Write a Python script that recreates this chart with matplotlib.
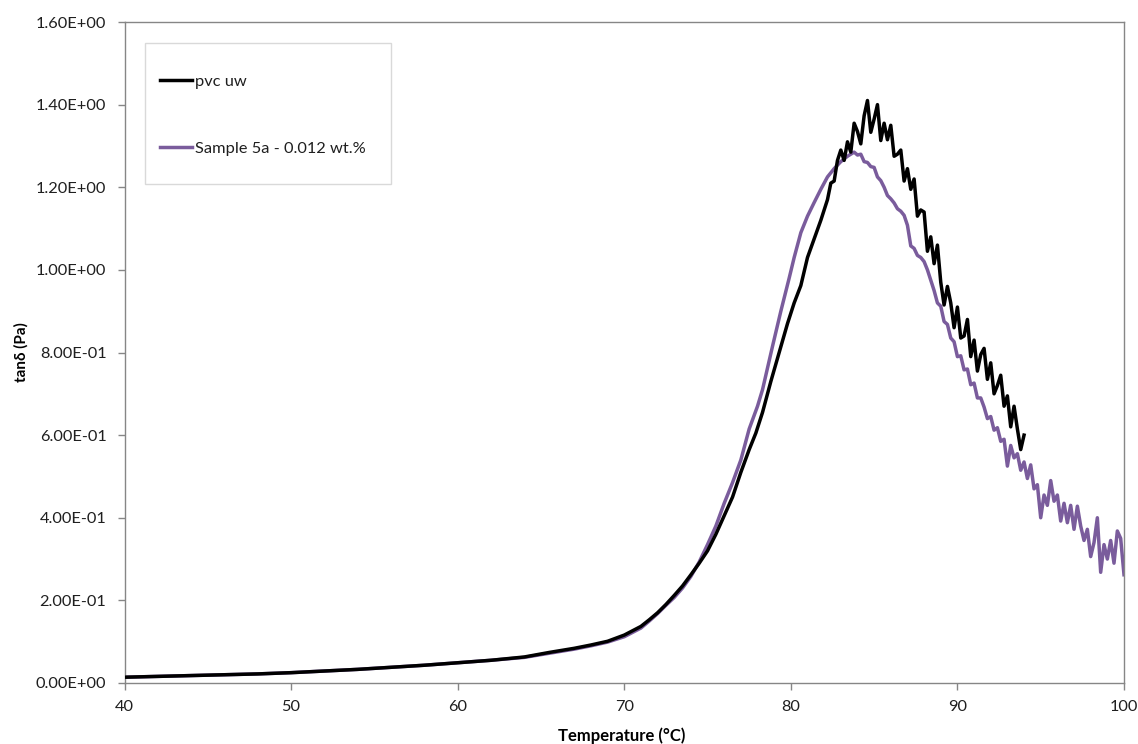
import matplotlib
matplotlib.use("Agg")
import matplotlib.pyplot as plt
from matplotlib.patches import Rectangle
from matplotlib.ticker import FixedLocator, FuncFormatter

plt.rcParams['font.family'] = ['Lato', 'DejaVu Sans']

# ---- data: tan delta vs temperature ----
pvc_temp = [40, 42, 44, 46, 48, 50, 52, 54, 56, 58, 60, 62, 64, 65.5, 67, 68, 69,
            70, 71, 71.5, 72, 72.5, 73, 73.5, 74, 74.5, 75, 75.5, 76, 76.5, 77,
            77.5, 77.9, 78.3, 78.8, 79.3, 79.8, 80.2, 80.6, 81.0, 81.4, 81.8, 82.2,
            82.4, 82.6, 82.8, 83.0, 83.2, 83.4, 83.6, 83.8, 84.0, 84.2, 84.4, 84.6,
            84.8, 85.0, 85.2, 85.4, 85.6, 85.8, 86.0, 86.2, 86.4, 86.6, 86.8, 87.0,
            87.2, 87.4, 87.6, 87.8, 88.0, 88.2, 88.4, 88.6, 88.8, 89.0, 89.2, 89.4,
            89.6, 89.8, 90.0, 90.2, 90.4, 90.6, 90.8, 91.0, 91.2, 91.4, 91.6, 91.8,
            92.0, 92.2, 92.4, 92.6, 92.8, 93.0, 93.2, 93.4, 93.6, 93.8, 94.0]
pvc_tan = [0.014, 0.016, 0.018, 0.020, 0.022, 0.025, 0.029, 0.033, 0.038, 0.043,
           0.049, 0.055, 0.063, 0.074, 0.084, 0.092, 0.101, 0.116, 0.137, 0.153,
           0.170, 0.190, 0.212, 0.235, 0.262, 0.290, 0.320, 0.360, 0.405, 0.450,
           0.510, 0.565, 0.605, 0.655, 0.730, 0.800, 0.870, 0.920, 0.962, 1.030,
           1.075, 1.120, 1.170,
           1.210, 1.215, 1.265, 1.290, 1.265, 1.310, 1.285, 1.355, 1.335, 1.305,
           1.373, 1.410, 1.333, 1.365, 1.400, 1.313, 1.355, 1.315, 1.350, 1.275,
           1.280, 1.290, 1.215, 1.245, 1.195, 1.220, 1.130, 1.145, 1.140, 1.045,
           1.080, 1.015, 1.060, 0.970, 0.915, 0.960, 0.920, 0.860, 0.910, 0.835,
           0.840, 0.880, 0.790, 0.830, 0.755, 0.795, 0.810, 0.735, 0.775, 0.700,
           0.720, 0.745, 0.670, 0.695, 0.620, 0.670, 0.615, 0.565, 0.600]

s5a_temp = [40, 42, 44, 46, 48, 50, 52, 54, 56, 58, 60, 62, 64, 65.5, 67, 68, 69,
            70, 71, 71.5, 72, 72.5, 73, 73.5, 74, 74.5, 75, 75.5, 76, 76.5, 77,
            77.5, 78, 78.3, 78.9, 79.4, 79.9, 80.2, 80.6, 81.0, 81.4, 81.8, 82.2,
            82.6, 83.0, 83.4, 83.8,
            84.0, 84.2, 84.4, 84.6, 84.8, 85.0, 85.2, 85.4, 85.6, 85.8, 86.0, 86.2,
            86.4, 86.6, 86.8, 87.0, 87.2, 87.4, 87.6, 87.8, 88.0, 88.2, 88.4, 88.6,
            88.8, 89.0, 89.2, 89.4, 89.6, 89.8, 90.0, 90.2, 90.4, 90.6, 90.8, 91.0,
            91.2, 91.4, 91.6, 91.8, 92.0, 92.2, 92.4, 92.6, 92.8, 93.0, 93.2, 93.4,
            93.6, 93.8, 94.0, 94.2, 94.4, 94.6, 94.8, 95.0, 95.2, 95.4, 95.6, 95.8,
            96.0, 96.2, 96.4, 96.6, 96.8, 97.0, 97.2, 97.4, 97.6, 97.8, 98.0, 98.2,
            98.4, 98.6, 98.8, 99.0, 99.2, 99.4, 99.6, 99.8, 100.0]
s5a_tan = [0.014, 0.016, 0.018, 0.020, 0.022, 0.025, 0.029, 0.033, 0.038, 0.043,
           0.049, 0.055, 0.062, 0.072, 0.082, 0.090, 0.099, 0.112, 0.133, 0.150,
           0.168, 0.188, 0.207, 0.230, 0.258, 0.293, 0.335, 0.380, 0.435, 0.485,
           0.540, 0.615, 0.670, 0.710, 0.815, 0.900, 0.980, 1.030, 1.090, 1.130,
           1.163, 1.195, 1.225, 1.245, 1.262, 1.275, 1.285,
           1.278, 1.280, 1.262, 1.260, 1.250, 1.248, 1.225, 1.216, 1.200, 1.180,
           1.172, 1.162, 1.148, 1.142, 1.132, 1.108, 1.058, 1.052, 1.035, 1.030,
           1.020, 1.000, 0.975, 0.950, 0.920, 0.912, 0.875, 0.868, 0.835, 0.826,
           0.790, 0.792, 0.758, 0.760, 0.722, 0.726, 0.690, 0.690, 0.668, 0.640,
           0.645, 0.612, 0.618, 0.585, 0.590, 0.525, 0.575, 0.545, 0.555, 0.515,
           0.535, 0.495, 0.528, 0.470, 0.480, 0.400, 0.455, 0.430, 0.490, 0.440,
           0.455, 0.392, 0.435, 0.388, 0.430, 0.372, 0.428, 0.380, 0.345, 0.372,
           0.306, 0.340, 0.400, 0.268, 0.335, 0.300, 0.345, 0.290, 0.368, 0.350,
           0.262]

series_labels = ["pvc uw", "Sample 5a - 0.012 wt.%"]
series_colors = ["#000000", "#7A5C9C"]

x_ticks = [40, 50, 60, 70, 80, 90, 100]
y_ticks = [0.0, 0.2, 0.4, 0.6, 0.8, 1.0, 1.2, 1.4, 1.6]

# ---- figure ----
W, H = 1138, 744
fig = plt.figure(figsize=(W / 100, H / 100), dpi=100)
ax = fig.add_axes([124.5 / W, 1 - 683 / H, (1124 - 124.5) / W, (683 - 22) / H])

ax.plot(pvc_temp, pvc_tan, color=series_colors[0], lw=2.5,
        solid_joinstyle='round', label=series_labels[0], zorder=3)
ax.plot(s5a_temp, s5a_tan, color=series_colors[1], lw=2.5,
        solid_joinstyle='round', label=series_labels[1], zorder=2)

ax.set_xlim(40, 100)
ax.set_ylim(0, 1.6)
ax.xaxis.set_major_locator(FixedLocator(x_ticks))
ax.yaxis.set_major_locator(FixedLocator(y_ticks))


def sci_fmt(v, pos):
    s = "{:.2E}".format(v)
    mant, exp = s.split("E")
    e = int(exp)
    return "{}E{}{:02d}".format(mant, "+" if e >= 0 else "-", abs(e))


ax.yaxis.set_major_formatter(FuncFormatter(sci_fmt))
ax.xaxis.set_major_formatter(FuncFormatter(lambda v, p: "{:d}".format(int(v))))

for sp in ax.spines.values():
    sp.set_color("#868686")
    sp.set_linewidth(1.0)
ax.tick_params(axis='both', direction='out', length=5, width=1.0,
               color="#868686", labelcolor="#1f1f1f", labelsize=11.8)
ax.tick_params(axis='y', pad=8)
ax.tick_params(axis='x', pad=7)

ax.set_xlabel("Temperature (°C)", fontsize=12, fontweight='bold', color="#000000")
ax.set_ylabel("tanδ (Pa)", fontsize=11, fontweight='bold', color="#000000")
ax.xaxis.set_label_coords(0.4975, (683 - 727) / 661, transform=ax.transAxes)
ax.yaxis.set_label_coords((29 - 124.5) / 999.5, 0.5, transform=ax.transAxes)

# legend with a light frame
frame = Rectangle((145 / W, 1 - 184 / H), (391 - 145) / W, (184 - 43) / H,
                  transform=fig.transFigure, facecolor='white',
                  edgecolor='#D9D9D9', lw=1.0, zorder=4, clip_on=False)
ax.add_patch(frame)
leg = ax.legend(loc='upper left', bbox_to_anchor=(152 / W, 1 - 66 / H),
                bbox_transform=fig.transFigure, frameon=False, borderpad=0,
                fontsize=11.8, handlelength=1.95, handletextpad=0.2,
                labelspacing=3.2)
leg.set_zorder(5)
for t in leg.get_texts():
    t.set_color("#1f1f1f")

fig.savefig("out.png", dpi=100, facecolor='white')
